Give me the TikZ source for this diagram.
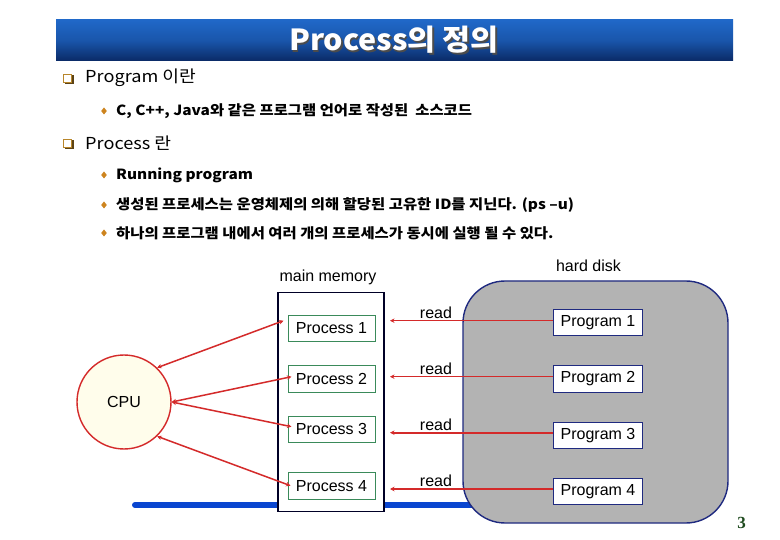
\documentclass[tikz,border=0pt]{standalone}
\usepackage{fontspec}
\setmainfont{Liberation Sans}
\newfontfamily\kr[FakeStretch=1.1]{Noto Sans CJK KR}
\newfontfamily\krtitle[FakeStretch=1.05]{Noto Sans CJK KR}
\newfontfamily\serifnum{Liberation Serif}
\usetikzlibrary{arrows.meta,shadows}
\definecolor{arrred}{HTML}{D42A2A}
\definecolor{navy}{HTML}{1F2A80}
\definecolor{diskgray}{HTML}{B3B3B3}
\definecolor{procgreen}{HTML}{3A8A5A}
\definecolor{barblue}{HTML}{0A46D0}
\definecolor{bulletgold}{HTML}{B8862B}
\definecolor{titletop}{HTML}{2068C8}
\definecolor{titlebot}{HTML}{0A2A66}
\definecolor{cpufill}{HTML}{FFFDEB}
\definecolor{pagegreen}{HTML}{1E4A1E}
\tikzset{
  procbox/.style={draw=procgreen, fill=white, line width=0.8pt, minimum width=87pt, minimum height=26.5pt, inner sep=0pt, font=\fontsize{16}{18}\selectfont},
  progbox/.style={draw=navy, fill=white, line width=0.8pt, minimum width=89pt, minimum height=26.5pt, inner sep=0pt, font=\fontsize{16}{18}\selectfont},
  dbl/.style={draw=arrred, line width=1.5pt, {Stealth[length=4.5pt,width=4.5pt]}-{Stealth[length=4.5pt,width=4.5pt]}},
  rd/.style={draw=arrred, line width=1.6pt, -{Stealth[length=4.5pt,width=4.5pt]}},
  lbl/.style={font=\fontsize{16}{18}\selectfont, inner sep=1pt},
  lvone/.style={anchor=west, inner sep=0pt, font=\kr\fontsize{16.5}{18}\selectfont},
  lvtwo/.style={anchor=west, inner sep=0pt, font=\kr\bfseries\fontsize{14}{16}\selectfont},
  sqbullet/.style={draw=bulletgold, line width=1pt, minimum size=8pt, inner sep=0pt}
}
\begin{document}
\begin{tikzpicture}[x=1pt,y=-1pt]
\useasboundingbox (0,0) rectangle (780,540);
\fill[white] (0,0) rectangle (780,540);
% title bar
\node[minimum width=677pt, minimum height=41pt, inner sep=0pt, top color=titletop, bottom color=titlebot, middle color=titletop!70!titlebot] (title) at (394.5,40.5) {};
\node[text=black!70, font=\krtitle\bfseries\fontsize{29}{32}\selectfont] at (395.5,41.5) {Process의 정의};
\node[text=white, font=\krtitle\bfseries\fontsize{29}{32}\selectfont] (titletext) at (394,40) {Process의 정의};
% bullets
\fill[bulletgold!50!black] (65,75) rectangle (74,84);
\node[sqbullet, fill=white] (b1) at (67.5,78.5) {};
\node[lvone] (t1) at (85,78) {Program 이란};
\fill[bulletgold!50!black] (65,140) rectangle (74,149);
\node[sqbullet, fill=white] (b2) at (67.5,143.5) {};
\node[lvone] (t2) at (85,143) {Process 란};
\foreach \yy in {111,175,205,233}{
  \fill[bulletgold!70!orange] (104,\yy-3.5) -- (106.8,\yy) -- (104,\yy+3.5) -- (101.2,\yy) -- cycle;
}
\node[lvtwo] (s1) at (116,111) {C, C++, Java와 같은 프로그램 언어로 작성된~ 소스코드};
\node[lvtwo] (s2) at (116,175) {Running program};
\node[lvtwo] (s3) at (116,205) {생성된 프로세스는 운영체제의 의해 할당된 고유한 ID를 지닌다. (ps –u)};
\node[lvtwo] (s4) at (116,233) {하나의 프로그램 내에서 여러 개의 프로세스가 동시에 실행 될 수 있다.};
% blue bus line
\coordinate (busl) at (135,505);
\coordinate (busr) at (480,505);
\draw[barblue, line width=6pt, line cap=round] (busl) -- (busr);
% main memory
\node[draw=black!85!blue, fill=white, line width=1.4pt, minimum width=106pt, minimum height=219pt, inner sep=0pt] (mem) at (331,402) {};
\node[lbl, fill=white, minimum width=112pt, minimum height=23pt] (memlbl) at (328,277) {main memory};
\node[procbox] (p1) at (331.5,328.3) {Process 1};
\node[procbox] (p2) at (331.5,378.8) {Process 2};
\node[procbox] (p3) at (331.5,429.3) {Process 3};
\node[procbox] (p4) at (331.5,485.8) {Process 4};
% hard disk
\node[draw=navy, fill=diskgray, line width=1.4pt, rounded corners=42pt, minimum width=265pt, minimum height=242pt, inner sep=0pt] (disk) at (595.5,402) {};
\node[lbl] (disklbl) at (588.5,266) {hard disk};
\node[progbox] (g1) at (598,322.3) {Program 1};
\node[progbox] (g2) at (598,379) {Program 2};
\node[progbox] (g3) at (598,435.2) {Program 3};
\node[progbox] (g4) at (598,491.5) {Program 4};
% CPU
\node[circle, draw=arrred, fill=cpufill, line width=1.4pt, minimum size=94pt, inner sep=0pt, font=\fontsize{16}{18}\selectfont] (cpu) at (124,402) {CPU};
% CPU arrows
\coordinate (a1) at (283.5,320.7);
\coordinate (a2) at (291.5,376.7);
\coordinate (a3) at (291.5,426.7);
\coordinate (a4) at (290.5,485.7);
\draw[dbl] (cpu.46) -- (a1);
\draw[dbl] (cpu.0) -- (a2);
\draw[dbl] (cpu.0) -- (a3);
\draw[dbl] (cpu.-46) -- (a4);
% read arrows
\foreach \i/\yy in {1/320.7,2/376.7,3/432.7,4/489}{
  \coordinate (gs\i) at (g\i.west |- 0,\yy);
  \coordinate (re\i) at (390,\yy);
  \draw[rd] (gs\i) -- (re\i);
  \node[lbl, anchor=south] (rl\i) at (436,\yy-1) {read};
}
% page number
\node[font=\serifnum\bfseries\fontsize{17}{19}\selectfont, text=pagegreen] (pg) at (741.5,523) {3};
\end{tikzpicture}
\end{document}
